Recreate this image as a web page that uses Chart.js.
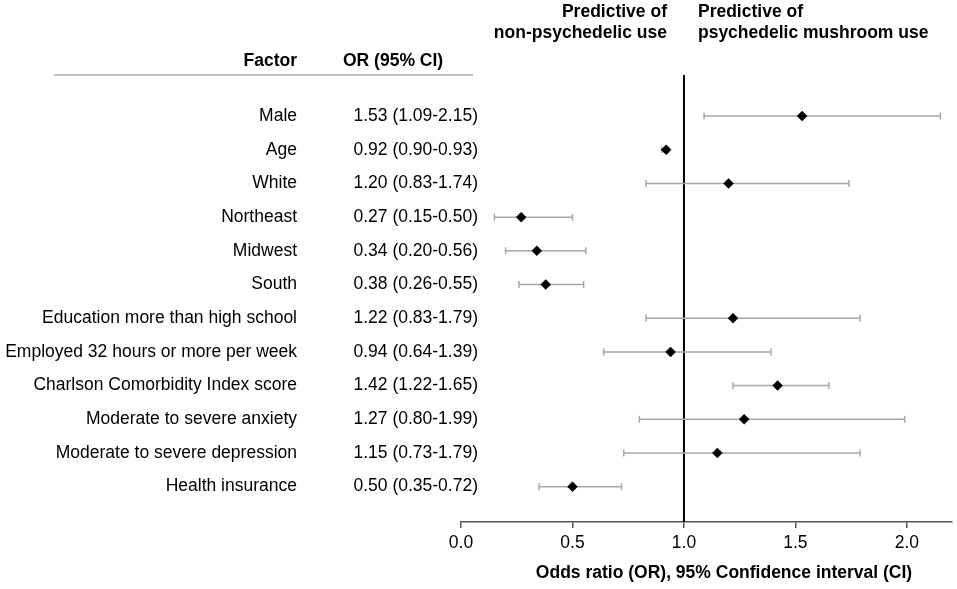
<!DOCTYPE html>
<html>
<head>
<meta charset="utf-8">
<script src="https://cdn.jsdelivr.net/npm/chart.js@4.4.1/dist/chart.umd.min.js"></script>
<style>
  html, body { margin: 0; padding: 0; background: #fff; }
  #wrap { width: 957px; height: 589px; position: relative; }
</style>
</head>
<body>
<div id="wrap"><canvas id="forest"></canvas></div>
<script>
/* ─── Forest plot: factors of psychedelic mushroom use ───────── */
const factors = [
  'Male', 'Age', 'White', 'Northeast', 'Midwest', 'South',
  'Education more than high school', 'Employed 32 hours or more per week',
  'Charlson Comorbidity Index score', 'Moderate to severe anxiety',
  'Moderate to severe depression', 'Health insurance',
];
const oddsRatio = [1.53, 0.92, 1.20, 0.27, 0.34, 0.38, 1.22, 0.94, 1.42, 1.27, 1.15, 0.50];
const ciLow     = [1.09, 0.90, 0.83, 0.15, 0.20, 0.26, 0.83, 0.64, 1.22, 0.80, 0.73, 0.35];
const ciHigh    = [2.15, 0.93, 1.74, 0.50, 0.56, 0.55, 1.79, 1.39, 1.65, 1.99, 1.79, 0.72];
const xTicks    = [0, 0.5, 1.0, 1.5, 2.0];

const FONT = '"Liberation Sans", Arial, Helvetica, sans-serif';
const SIZE = 17.5;

const fmt = v => v.toFixed(2);

// table text, header, titles, reference line and CI whiskers
const forestDecor = {
  id: 'forestDecor',
  beforeDatasetsDraw(chart) {
    const { ctx, chartArea, scales: { x, y } } = chart;
    ctx.save();

    // reference line at OR = 1
    const x1 = x.getPixelForValue(1);
    ctx.strokeStyle = '#000';
    ctx.lineWidth = 2;
    ctx.beginPath();
    ctx.moveTo(x1, chartArea.top);
    ctx.lineTo(x1, chartArea.bottom);
    ctx.stroke();

    // confidence interval whiskers
    ctx.strokeStyle = '#a8a8a8';
    ctx.lineWidth = 1.5;
    factors.forEach((f, i) => {
      const py = y.getPixelForValue(i);
      const a = x.getPixelForValue(ciLow[i]);
      const b = x.getPixelForValue(ciHigh[i]);
      ctx.beginPath();
      ctx.moveTo(a, py); ctx.lineTo(b, py);
      ctx.moveTo(a, py - 3.5); ctx.lineTo(a, py + 3.5);
      ctx.moveTo(b, py - 3.5); ctx.lineTo(b, py + 3.5);
      ctx.stroke();
    });

    // left table
    ctx.fillStyle = '#000';
    ctx.textBaseline = 'middle';
    ctx.font = `${SIZE}px ${FONT}`;
    factors.forEach((f, i) => {
      const py = y.getPixelForValue(i);
      ctx.textAlign = 'right';
      ctx.fillText(f, 297, py);
      ctx.fillText(`${fmt(oddsRatio[i])} (${fmt(ciLow[i])}-${fmt(ciHigh[i])})`, 478, py);
    });

    ctx.font = `bold ${SIZE}px ${FONT}`;
    ctx.textAlign = 'right';
    ctx.fillText('Factor', 297, 61);
    ctx.textAlign = 'left';
    ctx.fillText('OR (95% CI)', 343, 61);

    ctx.strokeStyle = '#c0c0c0';
    ctx.lineWidth = 2;
    ctx.beginPath();
    ctx.moveTo(54, 75); ctx.lineTo(473, 75);
    ctx.stroke();

    // direction labels
    ctx.textAlign = 'right';
    ctx.fillText('Predictive of', x1 - 17, 12);
    ctx.fillText('non-psychedelic use', x1 - 17, 33);
    ctx.textAlign = 'left';
    ctx.fillText('Predictive of', x1 + 14, 12);
    ctx.fillText('psychedelic mushroom use', x1 + 14, 33);

    // axis title
    ctx.textAlign = 'center';
    ctx.fillText('Odds ratio (OR), 95% Confidence interval (CI)', 724, 573);

    ctx.restore();
  },
};

new Chart(document.getElementById('forest').getContext('2d'), {
  type: 'scatter',
  data: {
    datasets: [{
      label: 'OR',
      data: oddsRatio.map((v, i) => ({ x: v, y: i })),
      pointStyle: 'rectRot',
      pointRadius: 5,
      pointBackgroundColor: '#000',
      pointBorderColor: '#000',
      pointBorderWidth: 0.5,
    }],
  },
  options: {
    responsive: true,
    maintainAspectRatio: false,
    animation: false,
    layout: { padding: { left: 461, right: 5, top: 75, bottom: 30 } },
    plugins: { legend: { display: false }, tooltip: { enabled: false } },
    scales: {
      x: {
        type: 'linear',
        min: 0,
        max: 2.2,
        afterBuildTicks: s => { s.ticks = xTicks.map(v => ({ value: v })); },
        border: { display: true, color: '#555', width: 1.5 },
        grid: { drawOnChartArea: false, drawTicks: true, tickLength: 6, color: '#555', lineWidth: 1.5 },
        ticks: {
          color: '#000',
          padding: 5,
          font: { family: FONT, size: SIZE },
          callback: v => Number(v).toFixed(1),
          maxRotation: 0,
        },
      },
      y: {
        type: 'linear',
        display: false,
        reverse: true,
        min: -1.22,
        max: 12.05,
      },
    },
  },
  plugins: [forestDecor],
});
</script>
</body>
</html>
